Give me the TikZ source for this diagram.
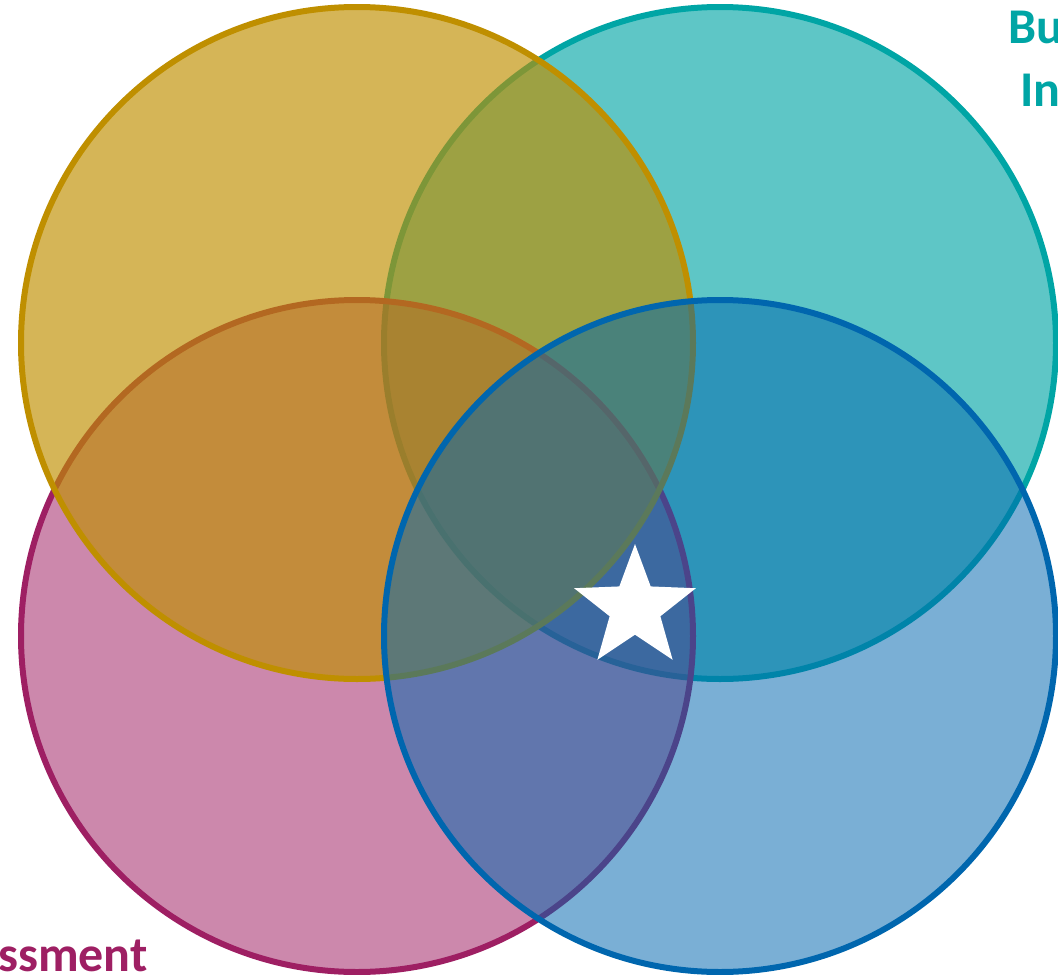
\documentclass[tikz,border=0pt]{standalone}
\usepackage{fontspec}
\setmainfont{Carlito}
\usetikzlibrary{shapes.geometric}
\definecolor{cgold}{HTML}{BF8F00}
\definecolor{cteal}{HTML}{00A5A5}
\definecolor{cpink}{HTML}{9E1F63}
\definecolor{cblue}{HTML}{0066AE}
\tikzset{
  venn/.style={circle, minimum size=672*0.75pt, inner sep=0pt, line width=4.5pt},
  lbl/.style={font=\bfseries\fontsize{37.5}{45}\selectfont, inner sep=0pt}
}
\begin{document}
\begin{tikzpicture}[x=0.75pt,y=-0.75pt]
\useasboundingbox (0,0) rectangle (1058,975);
\node[venn, draw=cteal, fill=cteal, fill opacity=0.63] (teal) at (720,343) {};
\node[venn, draw=cpink, fill=cpink, fill opacity=0.53] (pink) at (357,636) {};
\node[venn, draw=cgold, fill=cgold, fill opacity=0.66] (gold) at (357,343) {};
\node[venn, draw=cblue, fill=cblue, fill opacity=0.52] (blue) at (720,636) {};
\node[star, star points=5, star point ratio=2.4, minimum size=128*0.75pt, inner sep=0pt, fill=white, draw=none] (star) at (635,608) {};
\node[lbl, text=cteal, anchor=base west] (t1) at (1008,43) {Bu};
\node[lbl, text=cteal, anchor=base west] (t2) at (1020,106) {In};
\node[lbl, text=cpink, anchor=base west] (t3) at (-2,971) {ssment};
\end{tikzpicture}
\end{document}
